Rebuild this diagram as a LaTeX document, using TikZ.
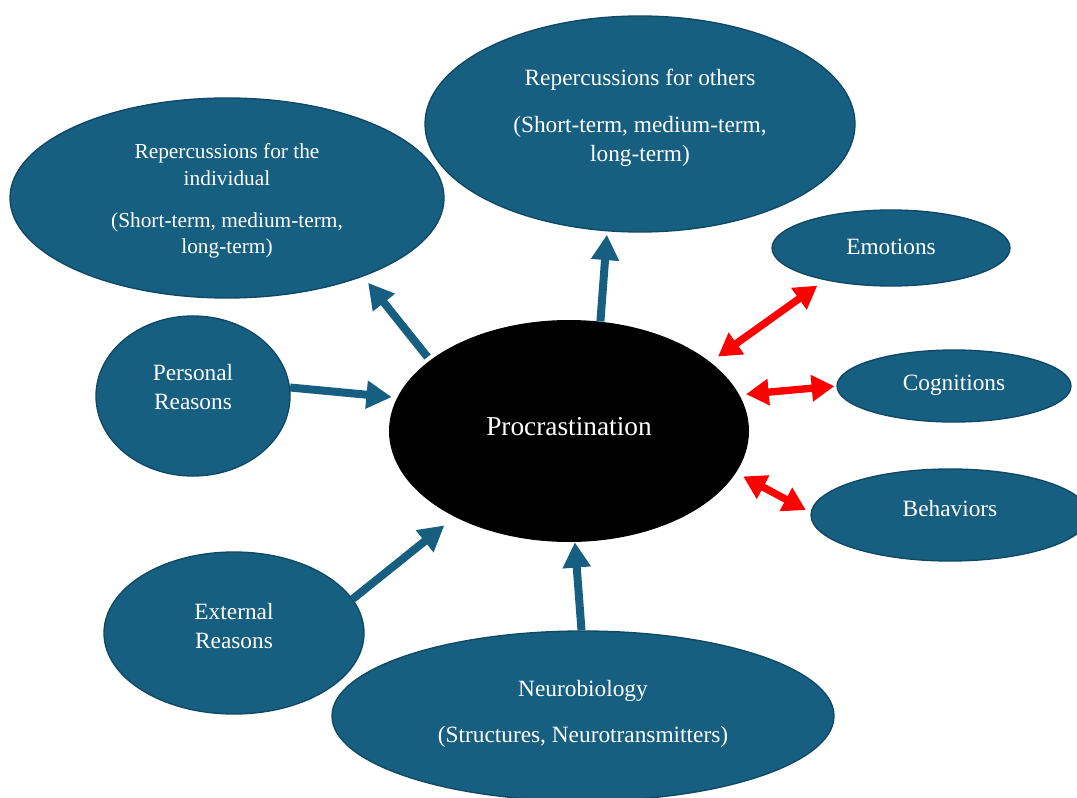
\documentclass[tikz,border=0pt]{standalone}
\usepackage{fontspec}
\setmainfont{Liberation Serif}
\usetikzlibrary{arrows.meta,shapes.geometric}
\definecolor{bfill}{RGB}{23,95,128}
\definecolor{bline}{RGB}{14,72,100}
\tikzset{
 bubble/.style={ellipse, fill=bfill, draw=bline, line width=1pt, inner sep=0pt},
 core/.style={ellipse, fill=black, inner sep=0pt},
 txt/.style={text=white, align=center, font=\fontsize{17.5}{21.5}\selectfont, inner sep=0pt},
 smalltxt/.style={txt, font=\fontsize{16}{20}\selectfont},
 bigtxt/.style={txt, font=\fontsize{20.5}{24}\selectfont},
 barrow/.style={draw=bfill, line width=6pt, -{Triangle[width=20pt,length=19pt]}},
 rarrow/.style={draw=red, line width=5.5pt, {Triangle[width=19pt,length=17pt]}-{Triangle[width=19pt,length=17pt]}},
}
\begin{document}
\begin{tikzpicture}[x=0.75pt,y=-0.75pt]
\clip (0,0) rectangle (1077,798);
\fill[white] (0,0) rectangle (1077,798);
% ellipses
\node[bubble, minimum width=325.5pt, minimum height=150pt] (ind) at (227,198) {};
\node[bubble, minimum width=322.5pt, minimum height=162pt] (oth) at (640,124) {};
\node[bubble, minimum width=178.5pt, minimum height=57pt] (emo) at (891,248) {};
\node[bubble, minimum width=175.5pt, minimum height=54pt] (cog) at (954,386) {};
\node[bubble, minimum width=208.5pt, minimum height=69pt] (beh) at (950,515) {};
\node[bubble, minimum width=145.5pt, minimum height=120pt] (pers) at (193,396) {};
\node[core, minimum width=270pt, minimum height=166.5pt] (proc) at (569,431) {};
\node[bubble, minimum width=195pt, minimum height=121.5pt] (ext) at (234,633) {};
\node[bubble, minimum width=376.5pt, minimum height=127.5pt] (neu) at (583,716) {};
% texts
\node[smalltxt] (indt) at (227,201) {Repercussions for the\\individual\\[11.5pt](Short-term, medium-term,\\long-term)};
\node[txt] (otht) at (640,117.5) {Repercussions for others\\[14pt](Short-term, medium-term,\\long-term)};
\node[txt] (emot) at (891,247) {Emotions};
\node[txt] (cogt) at (954,385) {Cognitions};
\node[txt] (beht) at (950,509) {Behaviors};
\node[txt] (perst) at (193,387) {Personal\\Reasons};
\node[bigtxt] (proct) at (569,427) {Procrastination};
\node[txt] (extt) at (234,626) {External\\Reasons};
\node[txt] (neut) at (583,714) {Neurobiology\\[12.5pt](Structures, Neurotransmitters)};
% blue arrows
\draw[barrow, shorten >=4pt] (pers.5) -- (proc.169);
\draw[barrow, shorten <=3pt, shorten >=6pt] (proc.153) -- (ind.-30.5);
\draw[barrow, shorten >=2.5pt] (proc.74) -- (oth.-107);
\draw[barrow, shorten >=10pt] (ext.16.5) -- (proc.-143);
\draw[barrow] (neu.91) -- (proc.-87);
% red arrows
\draw[rarrow, shorten <=7pt, shorten >=7pt] (proc.26.6) -- (emo.206);
\draw[rarrow, shorten <=5pt, shorten >=1.5pt] (proc.12) -- (cog.180);
\draw[rarrow, shorten <=6pt, shorten >=4pt] (proc.-14.5) -- (beh.179);
\end{tikzpicture}
\end{document}
